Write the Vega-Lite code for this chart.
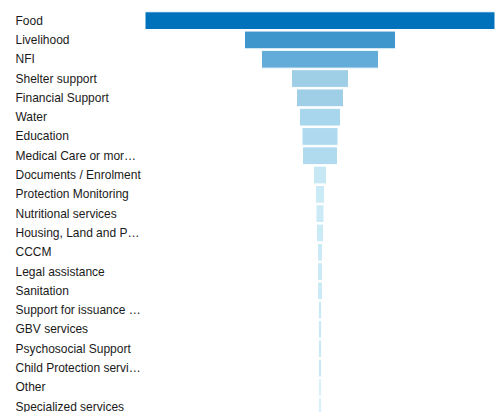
{
  "$schema": "https://vega.github.io/schema/vega-lite/v6.json",
  "autosize": "none",
  "width": 350,
  "height": {"step": 19.3},
  "padding": {"left": 145, "top": 11, "right": 6, "bottom": 0},
  "background": "white",
  "config": {"view": {"stroke": null}, "font": "Liberation Sans"},
  "data": {"values": [
    {"service": "Food", "count": 350},
    {"service": "Livelihood", "count": 151},
    {"service": "NFI", "count": 117},
    {"service": "Shelter support", "count": 57},
    {"service": "Financial Support", "count": 47},
    {"service": "Water", "count": 41},
    {"service": "Education", "count": 36},
    {"service": "Medical Care or more medicines", "count": 35},
    {"service": "Documents / Enrolment", "count": 13},
    {"service": "Protection Monitoring", "count": 9},
    {"service": "Nutritional services", "count": 8},
    {"service": "Housing, Land and Property", "count": 7},
    {"service": "CCCM", "count": 5},
    {"service": "Legal assistance", "count": 5},
    {"service": "Sanitation", "count": 5},
    {"service": "Support for issuance of documents", "count": 3.4},
    {"service": "GBV services", "count": 3.4},
    {"service": "Psychosocial Support", "count": 3.4},
    {"service": "Child Protection services", "count": 3.4},
    {"service": "Other", "count": 2.4},
    {"service": "Specialized services", "count": 2.4}
  ]},
  "mark": {"type": "bar", "stroke": "white", "strokeWidth": 1},
  "encoding": {
    "y": {
      "field": "service", "type": "nominal", "sort": null,
      "scale": {"paddingInner": 0.08, "paddingOuter": 0.04},
      "axis": {"title": null, "domain": false, "ticks": false, "labelAlign": "left", "labelPadding": 130, "labelLimit": 127, "labelFontSize": 12, "labelColor": "#1a1a1a", "labelFont": "Liberation Sans"}
    },
    "x": {
      "field": "count", "type": "quantitative", "stack": "center",
      "axis": null
    },
    "color": {
      "field": "service", "type": "nominal", "legend": null, "sort": null,
      "scale": {"range": ["#0072BC", "#3F96CD", "#63ABD9", "#9ECFE7", "#9ECFE7", "#A8D6EC", "#AED9EE", "#B0DBEF", "#C6E8F4", "#CAEAF6", "#CAEAF6", "#CAEAF6", "#CAEAF6", "#CAEAF6", "#CAEAF6", "#CAEAF6", "#CAEAF6", "#CAEAF6", "#CAEAF6", "#CAEAF6", "#CAEAF6"]}
    }
  }
}
